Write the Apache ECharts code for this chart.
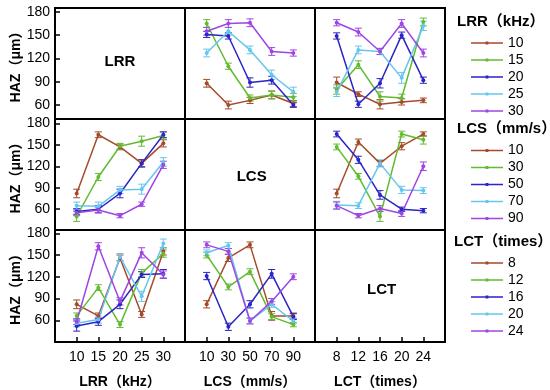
<!DOCTYPE html>
<html><head><meta charset="utf-8">
<script src="https://cdn.jsdelivr.net/npm/echarts@6/dist/echarts.min.js"></script>
<style>html,body{margin:0;padding:0;background:#fff}#c{width:550px;height:390px}</style>
</head><body><div id="c"></div>
<script>
// ---- factor levels (tick labels) ----
const LRR_LEVELS = ['10','15','20','25','30'];
const LCS_LEVELS = ['10','30','50','70','90'];
const LCT_LEVELS = ['8','12','16','20','24'];
const FACTOR_NAMES = ['LRR', 'LCS', 'LCT'];
const FACTOR_TITLES = ['LRR（kHz）', 'LCS（mm/s）', 'LCT（times）'];
const Y_TICKS = [60, 90, 120, 150, 180];
const COLORS = ['#A34B2B', '#62BB30', '#2B24C6', '#66C6EE', '#9E45E4'];

// ---- mean HAZ (µm); rows = line groups, columns = x-axis levels ----
// Row 1: lines = LRR levels
const HAZ_LRR_vs_LCS = [
  [88, 60, 66, 73, 62],
  [165, 110, 69, 73, 70],
  [151, 149, 89, 92, 60],
  [127, 155, 131, 99, 77],
  [155, 165, 166, 129, 127]
];
const ERR_LRR_vs_LCS = [
  [5, 5, 4, 5, 4], [5, 4, 4, 5, 5], [4, 4, 6, 5, 3], [5, 5, 5, 6, 6], [5, 5, 5, 5, 4]
];
const HAZ_LRR_vs_LCT = [
  [89, 74, 61, 64, 66],
  [80, 112, 71, 69, 167],
  [149, 61, 88, 150, 92],
  [77, 131, 129, 95, 162],
  [166, 154, 129, 165, 127]
];
const ERR_LRR_vs_LCT = [
  [7, 3, 6, 4, 3], [6, 5, 6, 5, 5], [4, 4, 6, 4, 4], [6, 5, 4, 7, 6], [4, 5, 4, 5, 5]
];
// Row 2: lines = LCS levels
const HAZ_LCS_vs_LRR = [
  [82, 164, 147, 124, 152],
  [50, 105, 148, 155, 163],
  [57, 60, 82, 124, 164],
  [65, 64, 87, 88, 126],
  [55, 59, 51, 67, 122]
];
const ERR_LCS_vs_LRR = [
  [6, 4, 4, 5, 5], [7, 5, 4, 7, 5], [4, 5, 6, 5, 4], [5, 6, 5, 7, 6], [4, 4, 3, 3, 5]
];
const HAZ_LCS_vs_LCT = [
  [82, 154, 124, 148, 165],
  [147, 106, 50, 165, 157],
  [165, 129, 80, 60, 58],
  [66, 65, 124, 87, 86],
  [65, 51, 61, 54, 120]
];
const ERR_LCS_vs_LCT = [
  [6, 4, 4, 5, 3], [4, 4, 7, 4, 6], [4, 5, 6, 3, 3], [5, 4, 5, 5, 4], [5, 3, 4, 4, 6]
];
// Row 3: lines = LCT levels
const HAZ_LCT_vs_LRR = [
  [82, 66, 146, 68, 155],
  [66, 105, 54, 125, 152],
  [52, 58, 82, 123, 124],
  [56, 61, 147, 93, 166],
  [58, 162, 86, 153, 123]
];
const ERR_LCT_vs_LRR = [
  [6, 4, 4, 4, 5], [4, 4, 4, 5, 5], [7, 5, 6, 4, 6], [5, 5, 5, 7, 6], [4, 5, 5, 7, 5]
];
const HAZ_LCT_vs_LCS = [
  [82, 146, 164, 66, 66],
  [150, 106, 127, 65, 54],
  [121, 51, 82, 124, 65],
  [153, 163, 59, 82, 59],
  [164, 155, 59, 86, 120]
];
const ERR_LCT_vs_LCS = [
  [5, 5, 4, 6, 4], [4, 4, 4, 4, 3], [5, 5, 5, 6, 4], [4, 4, 4, 4, 4], [4, 4, 4, 4, 4]
];

const LEVELS = [LRR_LEVELS, LCS_LEVELS, LCT_LEVELS];
const PANELS = [
  {r: 0, c: 1, haz: HAZ_LRR_vs_LCS, err: ERR_LRR_vs_LCS},
  {r: 0, c: 2, haz: HAZ_LRR_vs_LCT, err: ERR_LRR_vs_LCT},
  {r: 1, c: 0, haz: HAZ_LCS_vs_LRR, err: ERR_LCS_vs_LRR},
  {r: 1, c: 2, haz: HAZ_LCS_vs_LCT, err: ERR_LCS_vs_LCT},
  {r: 2, c: 0, haz: HAZ_LCT_vs_LRR, err: ERR_LCT_vs_LRR},
  {r: 2, c: 1, haz: HAZ_LCT_vs_LCS, err: ERR_LCT_vs_LCS}
];

// ---- layout ----
const FONT = 'Arial, "Liberation Sans", "Noto Sans CJK SC", sans-serif';
const COL_LEFT = [55, 185, 315];
const COL_W = 130;
const ROW_TOP = [8, 119, 230];
const ROW_H = [111, 111, 112.5];
const ROW_MIN = [42, 31, 30];
const ROW_MAX = [185, 186, 184.5];

const grids = [], xAxes = [], yAxes = [], series = [];
for (let r = 0; r < 3; r++) {
  for (let c = 0; c < 3; c++) {
    const gi = r * 3 + c;
    grids.push({left: COL_LEFT[c], top: ROW_TOP[r], width: COL_W, height: ROW_H[r],
      show: true, borderColor: '#000', borderWidth: 2, backgroundColor: 'transparent'});
    const bottom = r === 2;
    xAxes.push({
      type: 'value', gridIndex: gi, min: 0, max: 6,
      axisLine: {show: false}, splitLine: {show: false},
      axisTick: {show: bottom, inside: true, length: 5, customValues: [1, 2, 3, 4, 5],
        lineStyle: {color: '#000', width: 1.5}},
      axisLabel: {show: bottom, customValues: [1, 2, 3, 4, 5], margin: 8,
        formatter: v => LEVELS[c][Math.round(v) - 1] || '',
        fontSize: 14, color: '#000', fontFamily: FONT},
      name: bottom ? FACTOR_TITLES[c] : '', nameLocation: 'middle', nameGap: 33,
      nameTextStyle: {fontSize: 14, fontWeight: 'bold', color: '#000', fontFamily: FONT}
    });
    const left = c === 0;
    yAxes.push({
      type: 'value', gridIndex: gi, min: ROW_MIN[r], max: ROW_MAX[r],
      axisLine: {show: false}, splitLine: {show: false},
      axisTick: {show: left, inside: true, length: 5, customValues: Y_TICKS,
        lineStyle: {color: '#000', width: 1.5}},
      axisLabel: {show: left, customValues: Y_TICKS, margin: 5,
        fontSize: 14, color: '#000', fontFamily: FONT},
      name: left ? 'HAZ（μm）' : '', nameLocation: 'middle', nameGap: 32, nameRotate: 90,
      nameTextStyle: {fontSize: 14, fontWeight: 'bold', color: '#000', fontFamily: FONT}
    });
  }
}

function renderErr(params, api) {
  const x = api.value(0), lo = api.value(1), hi = api.value(2);
  const p1 = api.coord([x, hi]), p2 = api.coord([x, lo]);
  const w = 3.5;
  const style = {stroke: api.visual('color'), lineWidth: 1};
  return {type: 'group', children: [
    {type: 'line', shape: {x1: p1[0], y1: p1[1], x2: p2[0], y2: p2[1]}, style},
    {type: 'line', shape: {x1: p1[0] - w, y1: p1[1], x2: p1[0] + w, y2: p1[1]}, style},
    {type: 'line', shape: {x1: p2[0] - w, y1: p2[1], x2: p2[0] + w, y2: p2[1]}, style}
  ]};
}

PANELS.forEach(p => {
  const gi = p.r * 3 + p.c;
  p.haz.forEach((vals, k) => {
    const name = FACTOR_NAMES[p.r] + '|' + LEVELS[p.r][k];
    series.push({
      type: 'custom', xAxisIndex: gi, yAxisIndex: gi, renderItem: renderErr,
      itemStyle: {color: COLORS[k]}, silent: true, z: 2,
      encode: {x: 0, y: [1, 2]},
      data: vals.map((v, i) => [i + 1, v - p.err[k][i], v + p.err[k][i]])
    });
    series.push({
      type: 'line', name, xAxisIndex: gi, yAxisIndex: gi, z: 3,
      data: vals.map((v, i) => [i + 1, v]),
      symbol: 'circle', symbolSize: 4,
      lineStyle: {color: COLORS[k], width: 1.5},
      itemStyle: {color: COLORS[k]},
      animation: false
    });
  });
});

const LEGEND_ICON = 'path://M0,5.25L32,5.25L32,6.75L0,6.75Z M14.6,4.6L17.4,4.6L17.4,7.4L14.6,7.4Z';
const LEGEND_TOP = [36, 143.5, 256];
const legends = [0, 1, 2].map(r => ({
  data: LEVELS[r].map(l => FACTOR_NAMES[r] + '|' + l),
  orient: 'vertical', left: 471, top: LEGEND_TOP[r], padding: 0,
  icon: LEGEND_ICON, symbolKeepAspect: true,
  itemWidth: 32, itemHeight: 12, itemGap: 3, selectedMode: false,
  formatter: n => n.split('|')[1],
  textStyle: {fontSize: 14, color: '#000', fontFamily: FONT, padding: [0, 0, 0, 0]}
}));

const LEGEND_TITLE_POS = [[457, 23.5], [457, 130], [454, 243.5]];
const DIAG_POS = [[120, 62], [251.7, 176.7], [381.7, 290]];
const graphics = [];
[0, 1, 2].forEach(r => {
  graphics.push({type: 'text', left: LEGEND_TITLE_POS[r][0], top: LEGEND_TITLE_POS[r][1] - 9,
    style: {text: FACTOR_TITLES[r], font: 'bold 15px ' + FONT, fill: '#000'}});
  graphics.push({type: 'text', x: DIAG_POS[r][0], y: DIAG_POS[r][1],
    style: {text: FACTOR_NAMES[r], font: 'bold 15px ' + FONT, fill: '#000',
      textAlign: 'center', textVerticalAlign: 'middle'}});
});

const chart = echarts.init(document.getElementById('c'), null, {renderer: 'canvas'});
chart.setOption({
  animation: false,
  backgroundColor: '#fff',
  grid: grids, xAxis: xAxes, yAxis: yAxes,
  legend: legends,
  graphic: graphics,
  series
});
</script>
</body></html>
